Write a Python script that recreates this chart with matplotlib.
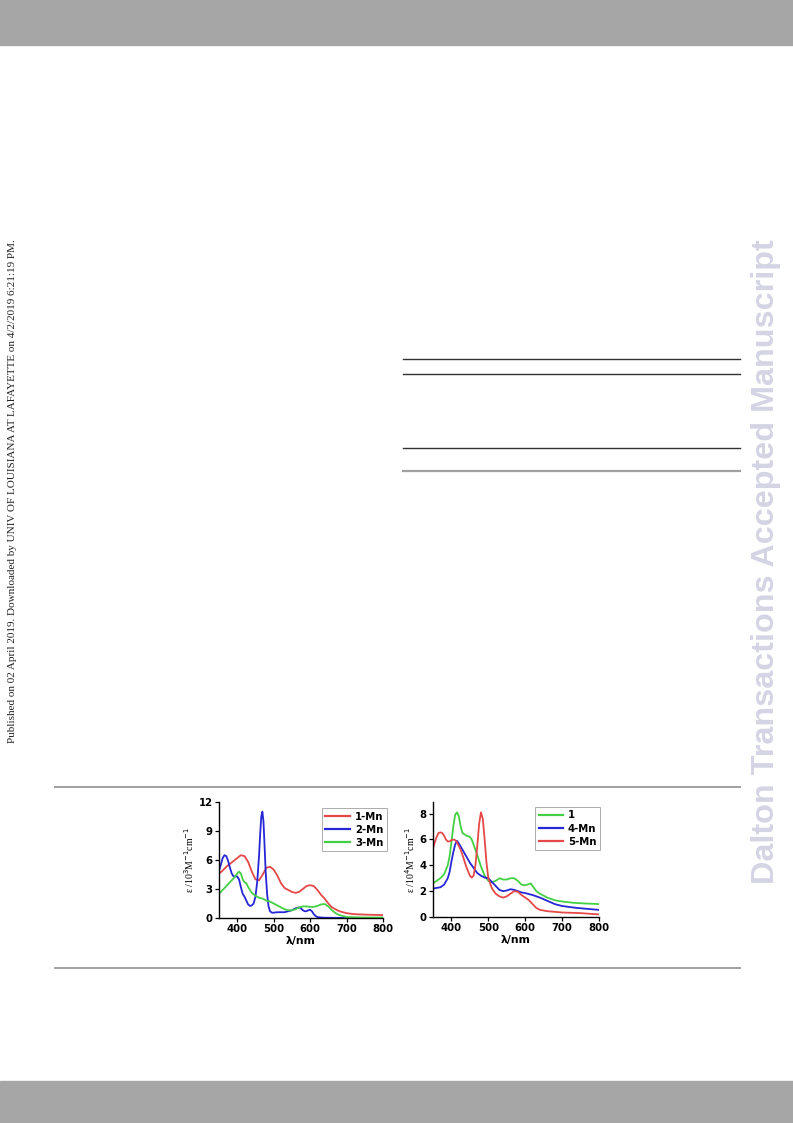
import matplotlib
matplotlib.use("Agg")
import matplotlib.pyplot as plt
from matplotlib.lines import Line2D
from matplotlib.patches import Rectangle

W, H = 793, 1123

# left panel: 1-Mn, 2-Mn, 3-Mn (eps / 10^3 M^-1 cm^-1)
mn1_x = [350, 360, 370, 380, 390, 400, 410, 420, 430, 440, 450, 460, 470, 480, 490, 500, 510, 520,
         530, 540, 550, 560, 570, 580, 590, 600, 610, 620, 630, 640, 650, 660, 670, 680, 700, 720, 750, 800]
mn1_y = [4.6, 4.9, 5.3, 5.6, 5.9, 6.2, 6.5, 6.4, 5.8, 4.8, 4.0, 3.9, 4.5, 5.2, 5.3, 5.0, 4.4, 3.6,
         3.1, 2.9, 2.7, 2.6, 2.7, 3.0, 3.3, 3.4, 3.3, 2.9, 2.4, 2.0, 1.5, 1.1, 0.9, 0.7, 0.5, 0.4, 0.35, 0.3]

mn2_x = [350, 355, 360, 365, 370, 375, 380, 385, 390, 400, 405, 410, 415, 420, 425, 430, 435, 440,
         445, 450, 455, 460, 463, 466, 469, 472, 475, 478, 482, 486, 490, 495, 500, 510, 520, 530,
         540, 550, 560, 570, 575, 580, 585, 590, 595, 600, 605, 610, 615, 620, 630, 640, 660, 700, 800]
mn2_y = [4.9, 5.5, 6.2, 6.5, 6.4, 5.9, 5.2, 4.6, 4.3, 4.3, 4.0, 3.2, 2.5, 2.2, 1.8, 1.4, 1.25, 1.3,
         1.5, 2.2, 3.8, 6.5, 8.7, 10.5, 11.0, 10.0, 7.5, 4.8, 2.5, 1.2, 0.7, 0.55, 0.55, 0.6, 0.6, 0.6,
         0.7, 0.8, 1.0, 1.1, 1.0, 0.8, 0.7, 0.7, 0.8, 0.85, 0.7, 0.4, 0.2, 0.1, 0.05, 0.03, 0.02, 0.0, 0.0]

mn3_x = [350, 360, 370, 380, 390, 400, 405, 410, 415, 420, 425, 430, 440, 450, 460, 470, 480, 490,
         500, 510, 520, 530, 540, 550, 560, 570, 580, 590, 600, 610, 620, 630, 640, 650, 660, 670,
         680, 700, 750, 800]
mn3_y = [2.5, 2.9, 3.3, 3.7, 4.1, 4.6, 4.8, 4.6, 4.0, 3.7, 3.6, 3.2, 2.6, 2.3, 2.1, 2.0, 1.8, 1.7,
         1.5, 1.3, 1.1, 0.9, 0.8, 0.8, 0.9, 1.1, 1.2, 1.2, 1.15, 1.15, 1.25, 1.4, 1.45, 1.2, 0.8, 0.5,
         0.3, 0.1, 0.05, 0.05]

# right panel: 1, 4-Mn, 5-Mn (eps / 10^4 M^-1 cm^-1)
c1_x = [350, 360, 370, 380, 390, 395, 400, 405, 410, 415, 420, 425, 430, 440, 450, 455, 460, 470,
        480, 490, 500, 510, 520, 530, 540, 550, 560, 570, 580, 590, 600, 610, 615, 620, 630, 640,
        660, 680, 700, 730, 760, 800]
c1_y = [2.6, 2.8, 3.0, 3.3, 4.0, 4.7, 5.8, 7.0, 7.9, 8.1, 7.8, 7.0, 6.5, 6.3, 6.2, 6.0, 5.6, 4.8,
        3.9, 3.2, 2.8, 2.7, 2.8, 3.0, 2.9, 2.9, 3.0, 3.0, 2.8, 2.5, 2.45, 2.55, 2.6, 2.4, 2.0, 1.8,
        1.5, 1.3, 1.2, 1.1, 1.05, 1.0]

mn4_x = [350, 360, 370, 380, 390, 395, 400, 405, 410, 415, 420, 430, 440, 450, 460, 470, 480, 490,
         500, 510, 520, 530, 540, 550, 560, 570, 580, 590, 600, 620, 640, 660, 680, 700, 740, 800]
mn4_y = [2.2, 2.25, 2.3, 2.5, 3.0, 3.5, 4.3, 5.0, 5.6, 5.9, 5.7, 5.2, 4.7, 4.2, 3.8, 3.4, 3.2, 3.05,
         3.0, 2.7, 2.4, 2.1, 2.0, 2.05, 2.15, 2.1, 2.0, 1.9, 1.85, 1.7, 1.5, 1.25, 1.0, 0.85, 0.7, 0.55]

mn5_x = [350, 355, 360, 365, 370, 375, 380, 385, 390, 395, 400, 405, 410, 415, 420, 425, 430, 440,
         450, 455, 460, 465, 470, 475, 480, 485, 490, 495, 500, 510, 520, 530, 540, 550, 560, 570,
         580, 590, 600, 610, 620, 630, 640, 660, 680, 700, 750, 800]
mn5_y = [5.3, 5.8, 6.2, 6.5, 6.55, 6.5, 6.3, 6.0, 5.85, 5.85, 5.95, 6.0, 5.95, 5.8, 5.5, 5.2, 4.8, 3.9,
         3.2, 3.05, 3.2, 4.0, 5.5, 7.2, 8.1, 7.6, 6.0, 4.2, 3.0, 2.2, 1.8, 1.6, 1.5, 1.6, 1.8, 2.0,
         1.95, 1.7, 1.5, 1.3, 1.0, 0.7, 0.55, 0.45, 0.4, 0.35, 0.3, 0.2]

RED, BLUE, GREEN = "#e54848", "#2626d6", "#44d044"


def px_axes(fig, x0, y0, x1, y1):
    return fig.add_axes([x0 / W, 1 - y1 / H, (x1 - x0) / W, (y1 - y0) / H])


def hline(fig, x0, x1, y, color, lw):
    fig.add_artist(Line2D([x0 / W, x1 / W], [1 - y / H, 1 - y / H], color=color, lw=lw))


def style(ax, ylabel, ylim, yticks, anchor):
    ax.set_xlim(350, 800)
    ax.set_ylim(*ylim)
    ax.set_xticks([400, 500, 600, 700, 800])
    ax.set_yticks(yticks)
    for s in ("top", "right"):
        ax.spines[s].set_visible(False)
    for s in ("left", "bottom"):
        ax.spines[s].set_linewidth(1.0)
    ax.tick_params(labelsize=7.3, length=3, width=0.9, pad=1.5)
    for t in ax.get_xticklabels() + ax.get_yticklabels():
        t.set_fontweight("bold")
    ax.set_xlabel("λ/nm", fontsize=7.8, fontweight="bold", labelpad=1)
    ax.set_ylabel(ylabel, fontsize=7, labelpad=2, family="Liberation Serif")
    leg = ax.legend(loc="upper right", bbox_to_anchor=anchor, fontsize=7.3, handlelength=2.4,
                    handletextpad=0.5, frameon=True, borderpad=0.35, labelspacing=0.3,
                    fancybox=False, edgecolor="#888888", borderaxespad=0)
    leg.get_frame().set_linewidth(0.6)
    for t in leg.get_texts():
        t.set_fontweight("bold")
    for ln in leg.get_lines():
        ln.set_linewidth(1.6)


fig = plt.figure(figsize=(W / 100, H / 100), dpi=100)

# page decoration
fig.add_artist(Rectangle((0, 1 - 45 / H), 1, 45 / H, transform=fig.transFigure, color="#a6a6a6"))
fig.add_artist(Rectangle((0, 0), 1, (H - 1081) / H, transform=fig.transFigure, color="#a6a6a6"))
hline(fig, 403, 740, 359, "#333333", 1.0)
hline(fig, 403, 740, 374, "#333333", 1.0)
hline(fig, 403, 740, 448, "#333333", 1.0)
hline(fig, 403, 740, 471, "#a0a0a0", 1.6)
hline(fig, 55, 740, 787, "#a0a0a0", 1.4)
hline(fig, 55, 740, 968, "#a0a0a0", 1.4)
fig.text(13 / W, 1 - 491 / H,
         "Published on 02 April 2019. Downloaded by UNIV OF LOUISIANA AT LAFAYETTE on 4/2/2019 6:21:19 PM.",
         rotation=90, ha="center", va="center", fontsize=8.0, family="Liberation Serif", color="#222222")
fig.text(766 / W, 1 - 562 / H, "Dalton Transactions Accepted Manuscript",
         rotation=90, ha="center", va="center", fontsize=23.3, fontweight="bold",
         family="Liberation Sans", color="#d4d4e4")

ax1 = px_axes(fig, 219, 802, 383, 918)
ax1.plot(mn1_x, mn1_y, color=RED, lw=1.3, label="1-Mn")
ax1.plot(mn2_x, mn2_y, color=BLUE, lw=1.3, label="2-Mn")
ax1.plot(mn3_x, mn3_y, color=GREEN, lw=1.3, label="3-Mn")
style(ax1, r"ε /10$^3$M$^{-1}$cm$^{-1}$", (0, 12), [0, 3, 6, 9, 12], (1.024, 0.948))

ax2 = px_axes(fig, 433, 802, 599, 917)
ax2.plot(c1_x, c1_y, color=GREEN, lw=1.3, label="1")
ax2.plot(mn4_x, mn4_y, color=BLUE, lw=1.3, label="4-Mn")
ax2.plot(mn5_x, mn5_y, color=RED, lw=1.3, label="5-Mn")
style(ax2, r"ε /10$^4$M$^{-1}$cm$^{-1}$", (0, 8.9), [0, 2, 4, 6, 8], (1.006, 0.957))

fig.savefig("out.png", dpi=100)
